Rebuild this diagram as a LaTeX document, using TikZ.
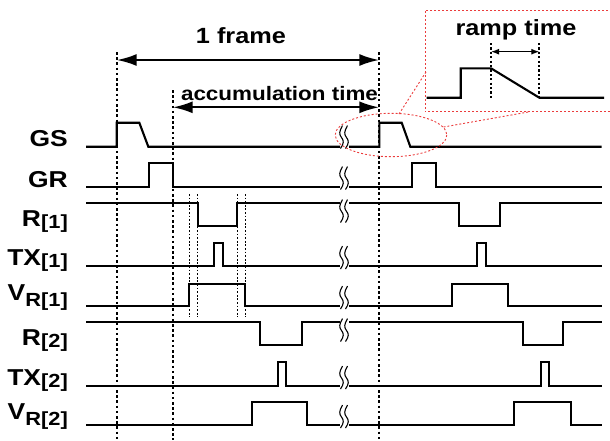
\documentclass[tikz,border=0pt]{standalone}
\usepackage{fontspec}
\setmainfont{Liberation Sans}[FakeStretch=1.15]
\usetikzlibrary{arrows.meta}

\definecolor{zoomred}{RGB}{235,60,60}

\tikzset{
	sig/.style={line width=2.1pt, line join=miter},
	framedash/.style={line width=2.3pt, dash pattern=on 2.6pt off 2.6pt},
	guide/.style={line width=0.9pt, dash pattern=on 1.8pt off 1.8pt},
	zoomline/.style={zoomred, line width=0.9pt, dash pattern=on 2pt off 2pt},
	brkline/.style={line width=1.1pt},
	lbl/.style={anchor=base east, inner sep=0pt, font=\fontsize{23}{23}\selectfont\bfseries},
	bigtxt/.style={anchor=base, inner sep=0pt, font=\fontsize{22}{22}\selectfont\bfseries},
}

% subscript parts of the labels
\newcommand{\idx}[1]{\raisebox{-2pt}{\fontsize{19}{19}\selectfont[#1]}}
\newcommand{\vidx}[1]{\raisebox{-6pt}{\fontsize{19}{19}\selectfont R[#1]}}

% break mark, #1 = top of the mark
\newcommand{\sigbreak}[1]{%
	\foreach \bx in {341.5, 346.5}
		\draw[brkline] (\bx+1, #1) .. controls (\bx-2.5, #1+6) and (\bx-2.5, #1+9) .. (\bx, #1+12)
			.. controls (\bx+2.5, #1+15) and (\bx+2.5, #1+18) .. (\bx-1, #1+23);%
}

\begin{document}
\begin{tikzpicture}[x=1pt, y=-1pt]
	\useasboundingbox (0, 0) rectangle (610, 440);

	% signal names
	\node[lbl] (gs) at (68, 146) {GS};
	\node[lbl] (gr) at (68, 187.5) {GR};
	\node[lbl] (r1) at (68, 226) {R\idx{1}};
	\node[lbl] (tx1) at (68, 265.5) {TX\idx{1}};
	\node[lbl] (vr1) at (68, 300.5) {V\vidx{1}};
	\node[lbl] (r2) at (68, 345) {R\idx{2}};
	\node[lbl] (tx2) at (68, 385.5) {TX\idx{2}};
	\node[lbl] (vr2) at (68, 419.5) {V\vidx{2}};

	% frame and accumulation time
	\draw[framedash] (116.7, 52) -- (116.7, 440);
	\draw[framedash] (172.7, 90) -- (172.7, 440);
	\draw[framedash] (379.3, 52) -- (379.3, 440);

	\coordinate (fl) at (116.7, 60);
	\coordinate (fr) at (379.3, 60);
	\coordinate (al) at (172.7, 107.3);
	\coordinate (ar) at (379.3, 107.3);
	\draw[{Latex[length=20pt, width=12pt]}-{Latex[length=20pt, width=12pt]}, line width=2.3pt] (fl) -- (fr);
	\draw[{Latex[length=20pt, width=12pt]}-{Latex[length=20pt, width=12pt]}, line width=2.3pt] (al) -- (ar);
	\node[bigtxt] (frame) at (241, 43.5) {1 frame};
	\node[bigtxt, font=\fontsize{19.5}{19.5}\selectfont\bfseries] (acc) at (279.5, 100) {accumulation time};

	% thin guides at the R[1] / VR[1] edges
	\foreach \gx in {189, 197.8, 237.3, 245.5}
		\draw[guide] (\gx, 194) -- (\gx, 317);

	% GS
	\draw[sig] (86, 146.7) -- (116.7, 146.7) -- (116.7, 122.7) -- (139.3, 122.7) -- (148.3, 146.7) -- (340, 146.7);
	\draw[sig] (349, 146.7) -- (379.3, 146.7) -- (379.3, 122.7) -- (401.7, 122.7) -- (410.3, 146.7) -- (601.7, 146.7);
	\sigbreak{125.5}

	% GR
	\draw[sig] (86, 186.7) -- (149, 186.7) -- (149, 163.3) -- (172.7, 163.3) -- (172.7, 186.7) -- (340, 186.7);
	\draw[sig] (349, 186.7) -- (411.7, 186.7) -- (411.7, 163.3) -- (435.7, 163.3) -- (435.7, 186.7) -- (601.7, 186.7);
	\sigbreak{166.5}

	% R[1]
	\draw[sig] (86, 202.7) -- (198.3, 202.7) -- (198.3, 226) -- (237.3, 226) -- (237.3, 202.7) -- (340, 202.7);
	\draw[sig] (349, 202.7) -- (459, 202.7) -- (459, 226) -- (500, 226) -- (500, 202.7) -- (601.7, 202.7);
	\sigbreak{199.5}

	% TX[1]
	\draw[sig] (86, 266) -- (214, 266) -- (214, 242.7) -- (222.7, 242.7) -- (222.7, 266) -- (340, 266);
	\draw[sig] (349, 266) -- (476.7, 266) -- (476.7, 242.7) -- (485.7, 242.7) -- (485.7, 266) -- (601.7, 266);
	\sigbreak{246}

	% VR[1]
	\draw[sig] (86, 306) -- (189, 306) -- (189, 284) -- (245.3, 284) -- (245.3, 306) -- (340, 306);
	\draw[sig] (349, 306) -- (451.7, 306) -- (451.7, 284) -- (507.7, 284) -- (507.7, 306) -- (601.7, 306);
	\sigbreak{286}

	% R[2]
	\draw[sig] (86, 321.7) -- (260, 321.7) -- (260, 345) -- (301.7, 345) -- (301.7, 321.7) -- (340, 321.7);
	\draw[sig] (349, 321.7) -- (522.7, 321.7) -- (522.7, 345) -- (563.3, 345) -- (563.3, 321.7) -- (601.7, 321.7);
	\sigbreak{318.5}

	% TX[2]
	\draw[sig] (86, 386) -- (278.3, 386) -- (278.3, 361.7) -- (286, 361.7) -- (286, 386) -- (340, 386);
	\draw[sig] (349, 386) -- (541, 386) -- (541, 361.7) -- (549, 361.7) -- (549, 386) -- (601.7, 386);
	\sigbreak{366}

	% VR[2]
	\draw[sig] (86, 425) -- (252.3, 425) -- (252.3, 401.7) -- (307.3, 401.7) -- (307.3, 425) -- (340, 425);
	\draw[sig] (349, 425) -- (514.3, 425) -- (514.3, 401.7) -- (571, 401.7) -- (571, 425) -- (601.7, 425);
	\sigbreak{405}

	% zoom on the GS ramp
	\draw[zoomline] (391, 135) ellipse [x radius=55.8, y radius=21.7];
	\draw[zoomline] (612, 10) -- (425, 10) -- (425, 111.7) -- (612, 111.7);
	\coordinate (e1) at (399, 114);
	\coordinate (b1) at (426, 72);
	\coordinate (e2) at (443.5, 127);
	\coordinate (b2) at (530, 111.7);
	\draw[zoomline] (e1) -- (b1);
	\draw[zoomline] (e2) -- (b2);

	\draw[sig] (426.7, 97.7) -- (460.7, 97.7) -- (460.7, 68.3) -- (491, 68.3) -- (539.3, 97.7) -- (604, 97.7);
	\draw[framedash, line width=1.8pt, dash pattern=on 2.2pt off 2.2pt] (491, 43) -- (491, 98);
	\draw[framedash, line width=1.8pt, dash pattern=on 2.2pt off 2.2pt] (539.3, 43) -- (539.3, 98);
	\coordinate (rl) at (491, 51.7);
	\coordinate (rr) at (539.3, 51.7);
	\draw[{Latex[length=8pt, width=6pt]}-{Latex[length=8pt, width=6pt]}, line width=1.3pt] (rl) -- (rr);
	\node[bigtxt] (ramp) at (516, 35) {ramp time};
\end{tikzpicture}
\end{document}
